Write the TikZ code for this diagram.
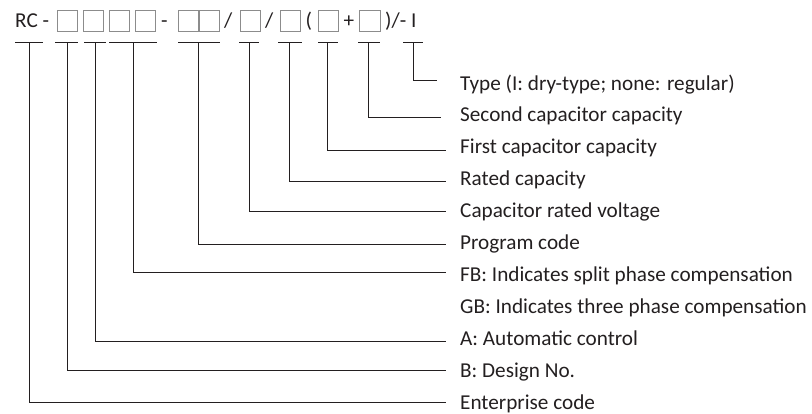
\documentclass[tikz,border=0pt]{standalone}
\usepackage{fontspec}
\setmainfont{Carlito}
\definecolor{ink}{HTML}{231F20}
\definecolor{boxgray}{HTML}{8C8C8C}
\begin{document}
\begin{tikzpicture}[x=1pt,y=-1pt,
  every node/.style={font=\fontsize{21.2}{25}\selectfont, text=ink, inner sep=0pt},
  codebox/.style={draw=boxgray, line width=0.8pt, minimum width=20.5pt, minimum height=20.5pt, anchor=north west},
  codetxt/.style={anchor=base west},
  lab/.style={anchor=base west},
  conn/.style={draw=ink, line width=1.1pt},
  bar/.style={draw=ink, line width=1.1pt}
]
\useasboundingbox (0,0) rectangle (812,414);

% code line
\node[codetxt] (rc) at (15,27.5) {RC -};
\node[codebox] (b1) at (56.5,10.5) {};
\node[codebox] (b2) at (82.5,10.5) {};
\node[codebox] (b3) at (108.5,10.5) {};
\node[codebox] (b4) at (134.5,10.5) {};
\node[codetxt] (d2) at (161,27.5) {-};
\node[codebox] (b5) at (177.5,10.5) {};
\node[codebox] (b6) at (198.5,10.5) {};
\node[codetxt] (s1) at (224,27.5) {/};
\node[codebox] (b7) at (239.5,10.5) {};
\node[codetxt] (s2) at (265,27.5) {/};
\node[codebox] (b8) at (279.5,10.5) {};
\node[codetxt] (p1) at (305.5,27.5) {(};
\node[codebox] (b9) at (317.5,10.5) {};
\node[codetxt] (pl) at (343.5,27.5) {+};
\node[codebox] (b10) at (359,10.5) {};
\node[codetxt] (p2) at (385,27.5) {)/-};
\node[codetxt] (ty) at (411,27.5) {I};

% T-bars
\foreach \n/\l/\r/\m in {1/15/42.7/29.3, 2/55/78/67.7, 3/84/106/95.7, 4/109/157/133.3, 5/178/220/198.3,
  6/239/259/249.3, 7/278/302/289.3, 8/318/338/327.3, 9/358/380/368.3, 10/403/423/413.3}{
  \coordinate (tl\n) at (\l,42.3);
  \coordinate (tr\n) at (\r,42.3);
  \coordinate (t\n) at (\m,42.3);
  \draw[bar] (tl\n) -- (tr\n);
}

% labels
\node[lab] (L10) at (460,90.1) {Type (I: dry-type; none: regular)};
\node[lab] (L9) at (460,122) {Second capacitor capacity};
\node[lab] (L8) at (460,153.9) {First capacitor capacity};
\node[lab] (L7) at (460,185.8) {Rated capacity};
\node[lab] (L6) at (460,217.7) {Capacitor rated voltage};
\node[lab] (L5) at (460,249.6) {Program code};
\node[lab] (L4) at (460,281.5) {FB: Indicates split phase compensation};
\node[lab] (L4b) at (460,313.4) {GB: Indicates three phase compensation};
\node[lab] (L3) at (460,345.3) {A: Automatic control};
\node[lab] (L2) at (460,377.2) {B: Design No.};
\node[lab] (L1) at (460,409.1) {Enterprise code};

% connector ends
\coordinate (e10) at (437,80.7);
\coordinate (e9) at (441,117.3);
\coordinate (e8) at (446,150.4);
\coordinate (e7) at (446,181.3);
\coordinate (e6) at (446,211.3);
\coordinate (e5) at (446,244.3);
\coordinate (e4) at (446,272.3);
\coordinate (e3) at (446,341.4);
\coordinate (e2) at (446,370.3);
\coordinate (e1) at (446,402.3);

\foreach \n in {1,...,10}{
  \draw[conn] (t\n) |- (e\n);
}
\end{tikzpicture}
\end{document}
